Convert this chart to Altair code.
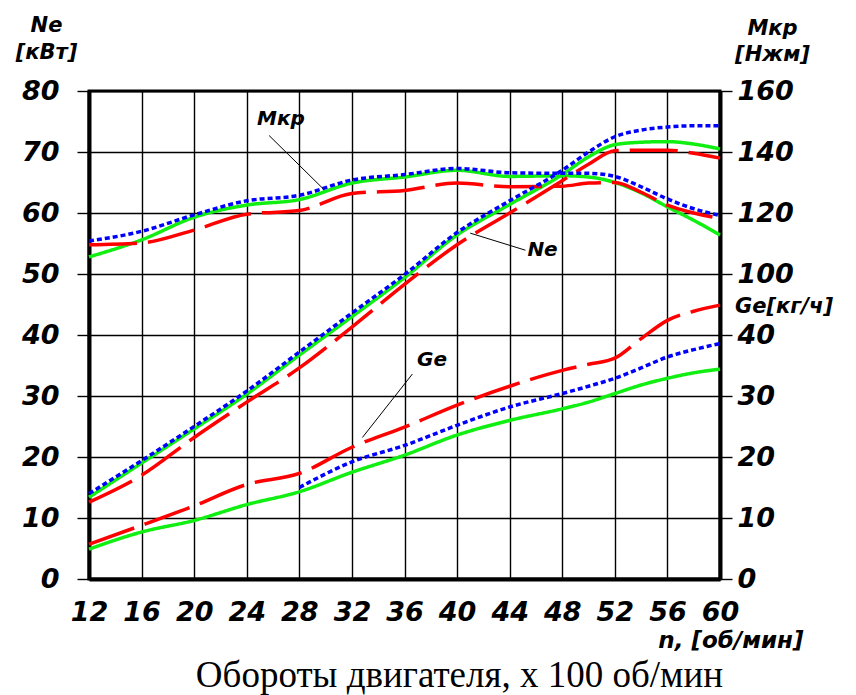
import altair as alt
import pandas as pd

# engine speed, x100 rpm
N = [12, 16, 20, 24, 28, 32, 36, 40, 44, 48, 50, 52, 54, 56, 58, 60]

# Power Ne, kW
ne_red   = [12.6, 17.0, 23.2, 29.0, 34.6, 41.3, 48.3, 54.8, 60.0, 65.3, 68.0, 70.2, 70.3, 70.3, 69.8, 69.0]
ne_blue  = [14.0, 19.4, 25.0, 30.8, 37.2, 43.6, 49.9, 56.8, 62.0, 67.0, 70.0, 72.5, 73.6, 74.1, 74.3, 74.3]
ne_green = [13.4, 19.0, 24.6, 30.3, 36.7, 43.0, 49.4, 56.4, 61.4, 66.3, 69.2, 71.2, 71.6, 71.7, 71.3, 70.5]

# Torque Mkp, N*m
mkp_red   = [109.6, 110.2, 114.4, 119.6, 120.8, 126.4, 127.4, 129.8, 128.6, 128.8, 129.8, 130.0, 126.8, 122.6, 120.0, 118.2]
mkp_blue  = [110.8, 114.0, 119.4, 124.0, 125.8, 130.8, 132.6, 134.6, 133.2, 133.0, 133.0, 132.0, 128.6, 124.6, 121.4, 119.2]
mkp_green = [105.6, 111.2, 118.6, 122.6, 124.4, 129.8, 131.8, 134.0, 132.0, 132.2, 131.8, 130.0, 126.6, 122.0, 117.6, 112.8]

# Fuel consumption Ge, kg/h
ge_red   = [5.7, 8.8, 12.0, 15.5, 17.3, 21.6, 24.9, 28.5, 31.6, 34.2, 35.2, 36.2, 39.4, 42.4, 43.9, 44.9]
ge_blue  = [None, None, None, None, 15.0, 19.2, 21.9, 25.2, 28.2, 30.4, 31.6, 32.9, 34.6, 36.4, 37.6, 38.6]
ge_green = [4.9, 7.7, 9.6, 12.2, 14.3, 17.5, 20.3, 23.6, 26.0, 27.9, 29.0, 30.4, 31.8, 32.9, 33.8, 34.4]

# annotations
ann_text = ["Мкр", "Ne", "Ge"]
ann_n = [26.6, 46.5, 38.1]
ann_v = [75.4, 53.9, 35.9]
lead_n1 = [25.7, 45.2, 36.6]
lead_v1 = [72.7, 53.9, 33.6]
lead_n2 = [29.8, 41.0, 32.8]
lead_v2 = [64.0, 56.7, 23.2]

rows = []
for var, div, ser in [
    ("Ne", 1.0, {"red": ne_red, "blue": ne_blue, "green": ne_green}),
    ("Mkp", 2.0, {"red": mkp_red, "blue": mkp_blue, "green": mkp_green}),
    ("Ge", 1.0, {"red": ge_red, "blue": ge_blue, "green": ge_green}),
]:
    for s, vals in ser.items():
        for n, v in zip(N, vals):
            if v is not None:
                rows.append({"n": n, "value": v, "v": v / div, "var": var, "series": s})
df = pd.DataFrame(rows)

ann_df = pd.DataFrame({"t": ann_text, "n": ann_n, "v": ann_v})
lead_df = pd.DataFrame({"n1": lead_n1, "v1": lead_v1, "n2": lead_n2, "v2": lead_v2})
ge_lab = pd.DataFrame({"t": ["Ge[кг/ч]"], "n": [60], "v": [44.6]})

FONT = "DejaVu Sans"
xscale = alt.Scale(domain=[12, 60], nice=False, zero=False)
yscale = alt.Scale(domain=[0, 80], nice=False)

xaxis = alt.Axis(
    values=list(range(12, 61, 4)), grid=True, gridColor="black", gridWidth=1.4,
    ticks=False, domainColor="black", domainWidth=4, labelFlush=False,
    labelFont=FONT, labelFontSize=27, labelFontStyle="italic", labelFontWeight="bold",
    labelColor="black", labelPadding=20,
    title="n, [об/мин]", titleFont=FONT, titleFontSize=23, titleFontStyle="italic",
    titleFontWeight="bold", titleColor="black", titleAlign="right", titleBaseline="top",
    titleX=714, titleY=50,
)
yaxis_left = alt.Axis(
    orient="left", values=list(range(0, 81, 10)), grid=True, gridColor="black", gridWidth=1.4,
    ticks=True, tickSize=12, tickWidth=1.4, tickColor="black",
    domainColor="black", domainWidth=4,
    labelFont=FONT, labelFontSize=27, labelFontStyle="italic", labelFontWeight="bold",
    labelColor="black", labelPadding=18,
    title=["Ne", "[кВт]"], titleFont=FONT, titleFontSize=21, titleFontStyle="italic",
    titleFontWeight="bold", titleColor="black", titleAngle=0, titleAlign="center",
    titleBaseline="top", titleX=-43, titleY=-77, titleLineHeight=27,
)
yaxis_right = alt.Axis(
    orient="right", values=list(range(0, 81, 10)), grid=False,
    ticks=True, tickSize=12, tickWidth=1.4, tickColor="black",
    domainColor="black", domainWidth=4,
    labelExpr="datum.value >= 50 ? datum.value * 2 : datum.value",
    labelFont=FONT, labelFontSize=27, labelFontStyle="italic", labelFontWeight="bold",
    labelColor="black", labelPadding=5,
    title=["Мкр", "[Нжм]"], titleFont=FONT, titleFontSize=21, titleFontStyle="italic",
    titleFontWeight="bold", titleColor="black", titleAngle=0, titleAlign="center",
    titleBaseline="top", titleX=52, titleY=-74, titleLineHeight=26,
)

X = lambda f: alt.X(f, scale=xscale, axis=xaxis)
YL = lambda f: alt.Y(f, scale=yscale, axis=yaxis_left)

def series_layer(name, color, dash):
    return alt.Chart(df).transform_filter(alt.datum.series == name).mark_line(
        strokeWidth=3.5, interpolate="monotone", strokeDash=dash, color=color
    ).encode(x=X("n:Q"), y=YL("v:Q"), detail="var:N")

lines = alt.layer(
    series_layer("green", "#11ee11", [1, 0]),
    series_layer("red", "#ff0000", [48, 11]),
    series_layer("blue", "#0000ff", [5, 3]),
)

leaders = alt.Chart(lead_df).mark_rule(color="black", strokeWidth=1).encode(
    x=X("n1:Q"), x2="n2:Q", y=YL("v1:Q"), y2="v2:Q",
)
labels = alt.Chart(ann_df).mark_text(
    font=FONT, fontSize=20, fontStyle="italic", fontWeight="bold", color="black",
    align="center", baseline="middle",
).encode(x=X("n:Q"), y=YL("v:Q"), text="t:N")

main = alt.layer(lines, leaders, labels)

right = alt.Chart(ge_lab).mark_text(
    font=FONT, fontSize=21, fontStyle="italic", fontWeight="bold", color="black",
    align="left", baseline="middle", dx=15,
).encode(
    x=X("n:Q"),
    y=alt.Y("v:Q", scale=yscale, axis=yaxis_right),
    text="t:N",
)

chart = alt.layer(main, right).resolve_scale(y="independent").properties(
    width=631, height=488,
    padding={"left": 81, "top": 83, "right": 128, "bottom": 116},
    autosize=alt.AutoSizeParams(type="none"),
    title=alt.TitleParams(
        "Обороты двигателя, х 100 об/мин", orient="bottom", anchor="middle",
        font="Liberation Serif", fontSize=37, fontWeight="normal", color="black",
        dx=55, offset=6,
    ),
).configure_view(stroke="black", strokeWidth=3)

chart.save("out.html", embed_options={"renderer": "svg", "actions": False})
